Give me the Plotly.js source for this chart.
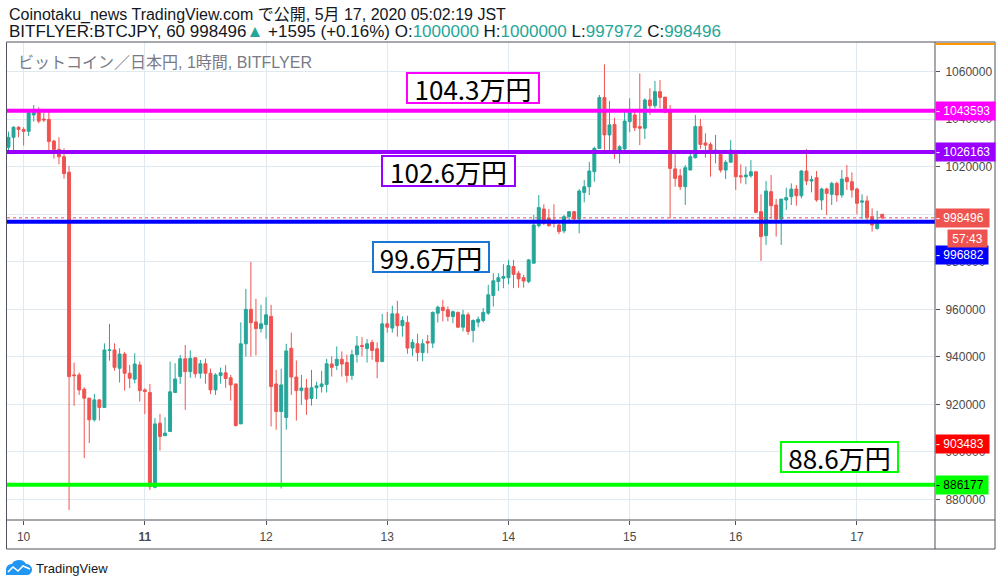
<!DOCTYPE html>
<html><head><meta charset="utf-8">
<script src="https://cdn.plot.ly/plotly-3.0.1.min.js"></script>
<style>html,body{margin:0;padding:0;background:#fff;}#chart{width:1002px;height:586px;}</style>
</head><body><div id="chart"></div>
<script>
// ---- data ----
const dayTicks = [3, 27, 51, 75, 99, 123, 144, 168];
const dayLabels = ['10', '<b>11</b>', '12', '13', '14', '15', '16', '17'];
const priceTicks = [880000, 900000, 920000, 940000, 960000, 980000, 1000000, 1020000, 1040000, 1060000];
// 1000000 is fully hidden under the last-price label in the reference
const priceTickLabels = ['880000', '900000', '920000', '940000', '960000', '980000', '', '1020000', '1040000', '1060000'];

const open = [
1028200,1032400,1036600,1035700,1034900,1041800,1043200,1040100,1039900,1030800,
1027300,1024200,1017700,932400,932400,926400,922600,913500,921900,918700,
942700,942900,935200,941200,933100,930600,936600,926100,925000,885100,
912100,906800,908600,925000,931700,939200,933800,939600,933100,937100,
933100,926100,932100,933300,931200,928600,911800,945500,960000,954700,
951900,953600,957000,928600,917000,914500,943600,931500,925800,926900,
922500,927000,927500,928400,937000,936400,939000,937600,932200,940900,
944800,943500,946100,943400,938000,953900,952100,958100,953100,954500,
943700,945500,941800,946500,945800,958400,960900,959800,957000,958700,
952500,957700,951100,954600,955300,958400,965800,971700,973100,973300,
978000,975200,973300,971700,979400,995200,1002200,998300,997200,995500,
993000,999000,1001100,998000,1009200,1011600,1017900,1027700,1049100,1033400,
1037800,1027000,1027500,1039000,1041800,1036900,1036200,1048100,1045700,1051600,
1049300,1043200,1019100,1016200,1011600,1018600,1023800,1036900,1030000,1029400,
1026300,1025200,1018600,1021900,1025200,1016200,1015800,1016200,1017900,1001100,
991000,1009500,1003900,998000,1006000,1007400,1010600,1007800,1018200,1014000,
1015400,1006000,1010600,1008400,1013000,1008100,1015400,1013700,1010600,1005100,
1005600,999000,994000,1000000];

const high = [
1034800,1037100,1037100,1036600,1043900,1046000,1045000,1042900,1043200,1031300,
1032400,1027700,1020300,937600,933400,927200,922900,924400,922200,945700,
953900,945700,943600,942100,936600,941500,938000,926800,928600,914200,
916000,914600,938000,937300,940800,945000,942700,939900,938700,939300,
935100,933100,935500,936500,932400,928600,954500,968600,980000,964400,
961900,965100,961900,934500,935000,945500,950200,938500,932400,930700,
934500,929500,934100,939200,940200,944400,942300,940900,943000,948800,
948300,947500,947200,946100,958100,958900,961500,963600,957000,957300,
947400,949700,947400,949200,959100,961500,964000,961200,959500,959100,
959800,958700,955800,957000,960500,970300,975200,975200,979000,980800,
980800,976100,974500,981200,999700,1008100,1004200,1002200,1004200,997600,
999700,1001400,1001400,1010600,1014400,1022100,1028400,1050200,1063100,1047700,
1040600,1029100,1043200,1048800,1043400,1059300,1048800,1053000,1056100,1056500,
1049300,1046000,1025600,1019100,1020700,1025600,1041800,1040100,1034100,1030300,
1033400,1026100,1022800,1031200,1026100,1021000,1020000,1022800,1017900,1008400,
1014000,1016500,1006400,1006400,1011200,1013000,1012300,1018600,1027500,1016200,
1018200,1011200,1011200,1013700,1013700,1018600,1020700,1017600,1011200,1008400,
1007800,1002500,1001500,1000000];

const low = [
1025400,1027000,1032400,1028900,1032900,1039000,1038300,1038800,1027000,1023400,
1021000,1015000,875600,919400,924000,897400,903700,912800,913200,918700,
938400,934200,929200,925800,926800,928900,921200,915900,884000,884700,
900600,906800,908600,925000,928600,917700,931200,931200,930900,928700,
924400,924000,928700,927000,921600,910700,911800,940100,940100,940600,
950200,947600,910700,909300,884600,909300,924000,913200,919800,915600,
919500,922200,925000,925000,931700,934500,931700,929200,930300,937600,
940200,937600,938800,931000,938000,950200,950200,948500,948500,941300,
940400,938100,938100,941500,943700,954500,954900,954900,954200,952100,
950700,949300,946100,952500,954500,957700,961200,967700,968900,970500,
968900,969100,969100,971000,979400,994400,995500,994800,994400,991700,
992000,997600,997600,992000,1005000,1008100,1013700,1027700,1027000,1027000,
1023300,1021400,1026600,1034500,1035000,1029100,1031700,1041800,1044600,1044600,
1042500,998300,1011600,1010200,1003900,1018600,1023500,1027500,1023800,1015800,
1021400,1017600,1014800,1021900,1010200,1013000,1012600,1015400,1000400,980400,
987100,998300,990600,987100,1001800,1003900,1003600,1006700,1012300,1009200,
1005300,1001800,999700,1003900,1005300,1007000,1010200,1007000,1000000,998000,
997200,992700,993500,997972];

const close = [
1032400,1036600,1035700,1034900,1042700,1043200,1039200,1039700,1030600,1027300,
1024200,1017100,931700,932100,926100,922600,913500,921900,918700,942900,
942900,935600,941200,933100,931000,937000,925800,925400,885400,911800,
906500,907900,925300,930700,939200,933800,939400,932900,937100,933100,
926100,932400,933300,930900,928200,911100,945500,960000,954400,951900,
953900,957700,927500,917000,928200,942500,931500,925800,926900,922200,
927000,927800,928600,937100,935600,939000,937000,932200,940900,944600,
944400,945500,942700,938000,953900,952500,958100,953100,955300,943700,
946100,941800,945500,945800,958700,960900,959500,957000,959000,952500,
957700,950700,955300,955800,958700,966100,972000,973300,973800,978400,
974700,972800,971900,980800,995500,1002800,996200,995200,996200,992700,
999000,1001100,998000,1009800,1011600,1018200,1027700,1049100,1033400,1037600,
1027000,1028400,1039200,1042900,1036400,1036200,1048100,1045700,1051600,1049100,
1042900,1019300,1015100,1011600,1019600,1024200,1036900,1029400,1029100,1027000,
1027000,1018600,1021900,1027000,1015800,1015800,1016500,1017900,1000800,990600,
1009800,1003600,998000,1006400,1007000,1010600,1007800,1018200,1014000,1014600,
1006000,1010600,1008800,1013000,1008100,1014800,1013700,1010200,1004600,1005600,
998600,995500,996900,998496];

const levelValues = [1043593, 1026163, 996882, 886177];
const levelColors = ['#ff00ff', '#9900ff', '#0000ff', '#00ff00'];
const levelTextColors = ['#ffffff', '#ffffff', '#ffffff', '#000000'];
const alertValue = 903483;
const countdownText = '57:43';
const boxTexts = ['104.3万円', '102.6万円', '99.6万円', '88.6万円'];
const boxColors = ['#ff00ff', '#9900ff', '#1976d2', '#00ff00'];

// ---- layout helpers (pixel -> paper) ----
const W = 1002, H = 586, ML = 7, MR = 67, MT = 42, MB = 66;
const PW = W - ML - MR, PH = H - MT - MB;
const fx = px => (px - ML) / PW;
const fy = py => (H - MB - py) / PH;
function path(pts, close) {
  return pts.map((p, i) => (i ? 'L' : 'M') + fx(p[0]) + ',' + fy(p[1])).join(' ') + (close ? ' Z' : '');
}

const idx = open.map((_, i) => i);
const lastClose = close[close.length - 1];
const FONT = 'Liberation Sans, Noto Sans CJK JP, sans-serif';
const NARROW = 'Liberation Sans Narrow, Liberation Sans, sans-serif';
const GREEN = '#26a69a', RED = '#ef5350';

const trace = {
  type: 'candlestick', x: idx, open: open, high: high, low: low, close: close,
  increasing: {line: {color: GREEN, width: 1}, fillcolor: GREEN},
  decreasing: {line: {color: RED, width: 1}, fillcolor: RED},
  whiskerwidth: 0, hoverinfo: 'skip', showlegend: false
};

const shapes = [];
levelValues.forEach((v, i) => shapes.push({type: 'line', xref: 'paper', x0: 0, x1: 1, yref: 'y', y0: v, y1: v,
  line: {color: levelColors[i], width: 4}, layer: 'above'}));
shapes.push({type: 'line', xref: 'paper', x0: 0, x1: 1, yref: 'y', y0: lastClose, y1: lastClose,
  line: {color: RED, width: 1, dash: 'dot'}, layer: 'above'});
const FR = '#50535e';
shapes.push({type: 'rect', xref: 'paper', yref: 'paper', x0: fx(6.5), x1: fx(995), y0: fy(549), y1: fy(42), line: {color: FR, width: 1}, layer: 'above'});
shapes.push({type: 'line', xref: 'paper', yref: 'paper', x0: 1, x1: 1, y0: fy(549), y1: fy(42), line: {color: FR, width: 1}, layer: 'above'});
shapes.push({type: 'line', xref: 'paper', yref: 'paper', x0: fx(6.5), x1: fx(995), y0: 0, y1: 0, line: {color: FR, width: 1}, layer: 'above'});
shapes.push({type: 'line', xref: 'paper', yref: 'paper', x0: 1, x1: fx(994.5), y0: fy(44), y1: fy(44), line: {color: '#ff9800', width: 2}, layer: 'above'});
shapes.push({type: 'path', xref: 'paper', yref: 'paper', layer: 'above',
  path: 'M' + fx(6) + ',' + fy(575) + ' L' + fx(6) + ',' + fy(570) +
    ' C' + fx(6) + ',' + fy(566) + ' ' + fx(9) + ',' + fy(564) + ' ' + fx(12) + ',' + fy(564) +
    ' C' + fx(13) + ',' + fy(561) + ' ' + fx(16) + ',' + fy(560) + ' ' + fx(19) + ',' + fy(560) +
    ' C' + fx(23) + ',' + fy(560) + ' ' + fx(25) + ',' + fy(562) + ' ' + fx(26) + ',' + fy(564) +
    ' C' + fx(29) + ',' + fy(564) + ' ' + fx(32) + ',' + fy(566) + ' ' + fx(32) + ',' + fy(569.5) +
    ' C' + fx(32) + ',' + fy(573) + ' ' + fx(29.5) + ',' + fy(575) + ' ' + fx(27) + ',' + fy(575) + ' Z',
  fillcolor: '#2196f3', line: {width: 0}});
shapes.push({type: 'path', xref: 'paper', yref: 'paper', layer: 'above',
  path: path([[8, 572], [13, 567], [18, 571], [23, 566], [30, 569]], false),
  line: {color: '#ffffff', width: 1.6}});

const annotations = [];
annotations.push({xref: 'paper', yref: 'paper', x: fx(7), y: fy(15.5), xanchor: 'left', yanchor: 'middle', showarrow: false,
  text: 'Coinotaku_news TradingView.com で公開, 5月 17, 2020 05:02:19 JST', font: {family: FONT, size: 16, color: '#131722'}});
const tv = s => '<span style="color:' + GREEN + '">' + s + '</span>';
annotations.push({xref: 'paper', yref: 'paper', x: fx(7), y: fy(31.5), xanchor: 'left', yanchor: 'middle', showarrow: false,
  text: 'BITFLYER:BTCJPY, 60 998496' + tv('▲') + ' +1595 (+0.16%) O:' + tv('1000000') + ' H:' + tv('1000000') + ' L:' + tv('997972') + ' C:' + tv('998496'),
  font: {family: FONT, size: 17, color: '#131722'}});
annotations.push({xref: 'paper', yref: 'paper', x: fx(16), y: fy(62.5), xanchor: 'left', yanchor: 'middle', showarrow: false,
  text: 'ビットコイン／日本円, 1時間, BITFLYER', font: {family: FONT, size: 16, color: '#787b86'}});
annotations.push({xref: 'paper', yref: 'paper', x: fx(34), y: fy(568), xanchor: 'left', yanchor: 'middle', showarrow: false,
  text: 'TradingView', font: {family: FONT, size: 13, color: '#131722'}});

const labelShift = [0, 0, -33.5, 0];
const labelWidth = [59, 59, 52, 52];
levelValues.forEach((v, i) => annotations.push({xref: 'paper', x: 1, xanchor: 'left', yref: 'y', y: v, yanchor: 'middle',
  yshift: labelShift[i], showarrow: false, text: '- ' + v, align: 'left', width: labelWidth[i], height: 18, borderpad: 0,
  bgcolor: levelColors[i], font: {family: NARROW, size: 12, color: levelTextColors[i]}}));
annotations.push({xref: 'paper', x: 1, xanchor: 'left', yref: 'y', y: lastClose, yanchor: 'middle', showarrow: false,
  text: '- ' + lastClose, align: 'left', width: 53, height: 18, borderpad: 0, bgcolor: RED, font: {family: NARROW, size: 12, color: '#ffffff'}});
annotations.push({xref: 'paper', x: fx(988), xanchor: 'right', yref: 'y', y: lastClose, yanchor: 'middle', yshift: -20.3, showarrow: false,
  text: countdownText, align: 'center', width: 39, height: 17, borderpad: 0, bgcolor: RED, font: {family: NARROW, size: 12, color: '#ffffff'}});
annotations.push({xref: 'paper', x: 1, xanchor: 'left', yref: 'y', y: alertValue, yanchor: 'middle', showarrow: false,
  text: '- ' + alertValue, align: 'left', width: 53, height: 18, borderpad: 0, bgcolor: '#ff0000', font: {family: NARROW, size: 12, color: '#ffffff'}});

const boxCenters = [[473, 87.5], [448, 171], [430.5, 256.7], [839.5, 456.5]];
const boxWidths = [130, 131, 114, 115];
boxTexts.forEach((t, i) => annotations.push({xref: 'paper', yref: 'paper', x: fx(boxCenters[i][0]), y: fy(boxCenters[i][1]),
  xanchor: 'center', yanchor: 'middle', showarrow: false, text: t, width: boxWidths[i], height: 28, borderpad: 0,
  bordercolor: boxColors[i], borderwidth: 2, bgcolor: '#ffffff', font: {family: 'Noto Sans CJK JP, sans-serif', size: 26, color: '#000000'}}));

const GRID = '#e1e9f0';
const layout = {
  width: W, height: H, margin: {l: ML, r: MR, t: MT, b: MB},
  paper_bgcolor: '#ffffff', plot_bgcolor: '#ffffff', showlegend: false,
  boxgap: 0.42, boxgroupgap: 0,
  xaxis: {range: [-0.29, 183.45], tickmode: 'array', tickvals: dayTicks, ticktext: dayLabels,
    showgrid: true, gridcolor: GRID, zeroline: false, showline: false,
    ticks: 'outside', ticklen: 4, tickcolor: FR, ticklabelstandoff: 2,
    tickfont: {family: NARROW, size: 12, color: '#4a4a4a'}, rangeslider: {visible: false}, fixedrange: true},
  yaxis: {side: 'right', range: [871354, 1072490], tickmode: 'array', tickvals: priceTicks, ticktext: priceTickLabels,
    showgrid: true, gridcolor: GRID, zeroline: false, showline: false,
    ticks: 'outside', ticklen: 4, tickcolor: FR, ticklabelstandoff: 3,
    tickfont: {family: NARROW, size: 12, color: '#4a4a4a'}, fixedrange: true},
  shapes: shapes, annotations: annotations
};

Plotly.newPlot('chart', [trace], layout, {displayModeBar: false, staticPlot: true});
</script>
</body></html>
